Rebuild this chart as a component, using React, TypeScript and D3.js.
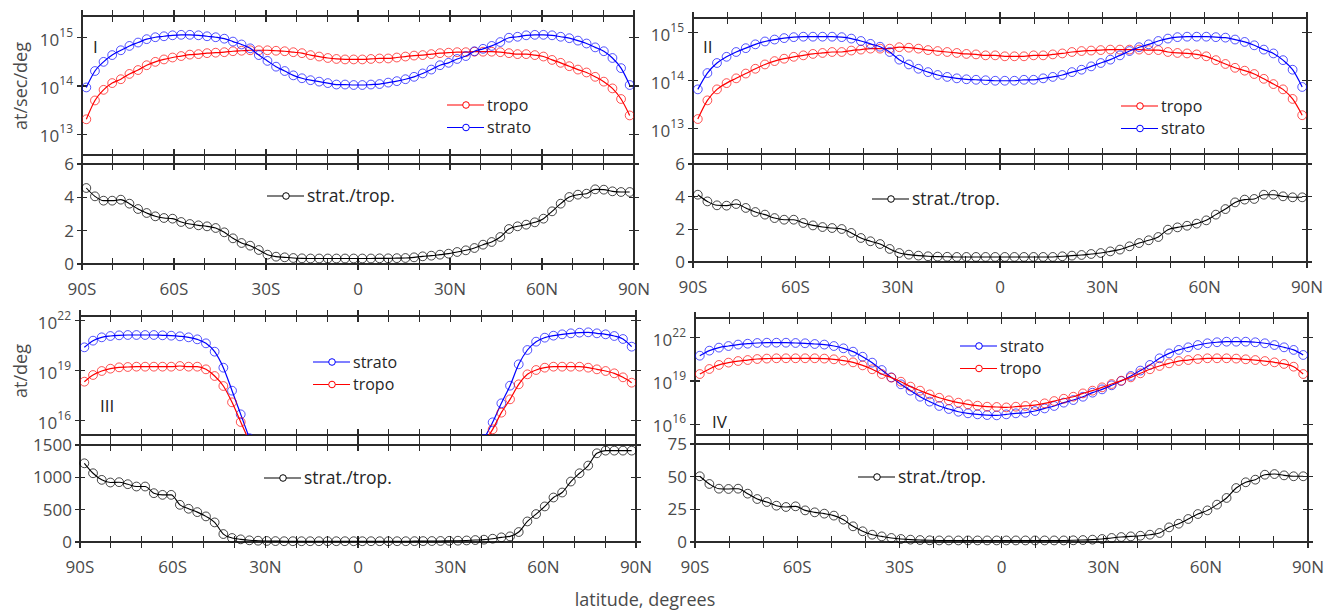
import React from 'react';
import * as d3 from 'd3';

// latitude of the model grid rows (degrees, S negative)
const LAT = [
  -88.59, -85.78, -82.97, -80.16, -77.34, -74.53, -71.72, -68.91, -66.09, -63.28, -60.47, -57.66,
  -54.84, -52.03, -49.22, -46.41, -43.59, -40.78, -37.97, -35.16, -32.34, -29.53, -26.72, -23.91,
  -21.09, -18.28, -15.47, -12.66, -9.84, -7.03, -4.22, -1.41,
  1.41, 4.22, 7.03, 9.84, 12.66, 15.47, 18.28, 21.09, 23.91, 26.72, 29.53, 32.34, 35.16, 37.97,
  40.78, 43.59, 46.41, 49.22, 52.03, 54.84, 57.66, 60.47, 63.28, 66.09, 68.91, 71.72, 74.53,
  77.34, 80.16, 82.97, 85.78, 88.59,
];

// panel I : log10(at/sec/deg)
const STRATO_I = [
  13.97, 14.31, 14.5, 14.64, 14.74, 14.83, 14.9, 14.97, 15.01, 15.03, 15.05, 15.06, 15.06, 15.05, 15.03, 15.01,
  14.98, 14.92, 14.86, 14.78, 14.64, 14.52, 14.4, 14.31, 14.22, 14.16, 14.12, 14.09, 14.06, 14.03, 14.03, 14.02,
  14.02, 14.03, 14.04, 14.07, 14.1, 14.14, 14.19, 14.26, 14.34, 14.43, 14.48, 14.56, 14.62, 14.72, 14.77, 14.83,
  14.91, 15.0, 15.02, 15.05, 15.06, 15.06, 15.05, 15.02, 14.99, 14.94, 14.88, 14.8, 14.72, 14.58, 14.37, 14.02,
];
const TROPO_I = [
  13.31, 13.7, 13.92, 14.06, 14.14, 14.25, 14.33, 14.43, 14.5, 14.55, 14.59, 14.62, 14.65, 14.66, 14.68, 14.69,
  14.7, 14.72, 14.73, 14.74, 14.74, 14.74, 14.73, 14.72, 14.7, 14.68, 14.64, 14.61, 14.58, 14.56, 14.55, 14.55,
  14.55, 14.56, 14.57, 14.57, 14.59, 14.61, 14.63, 14.64, 14.66, 14.68, 14.69, 14.7, 14.7, 14.71, 14.71, 14.71,
  14.7, 14.68, 14.66, 14.66, 14.64, 14.61, 14.54, 14.48, 14.41, 14.34, 14.28, 14.19, 14.09, 13.95, 13.73, 13.39,
];
const RATIO_I = [
  4.56, 4.06, 3.8, 3.8, 3.86, 3.62, 3.3, 3.06, 2.86, 2.76, 2.72, 2.52, 2.4, 2.32, 2.26, 2.16,
  1.9, 1.54, 1.26, 1.1, 0.84, 0.56, 0.44, 0.4, 0.36, 0.34, 0.33, 0.33, 0.33, 0.33, 0.33, 0.33,
  0.33, 0.33, 0.34, 0.34, 0.35, 0.36, 0.4, 0.46, 0.5, 0.56, 0.62, 0.72, 0.82, 0.96, 1.16, 1.32,
  1.62, 2.1, 2.26, 2.36, 2.5, 2.72, 3.16, 3.62, 4.02, 4.16, 4.22, 4.48, 4.46, 4.36, 4.32, 4.32,
];

// panel II : log10(at/sec/deg)
const STRATO_II = [
  13.82, 14.16, 14.37, 14.5, 14.6, 14.68, 14.76, 14.82, 14.86, 14.89, 14.91, 14.92, 14.92, 14.92, 14.92, 14.91,
  14.88, 14.83, 14.77, 14.71, 14.6, 14.44, 14.34, 14.25, 14.18, 14.12, 14.08, 14.05, 14.03, 14.02, 14.01, 14.0,
  14.0, 14.0, 14.02, 14.02, 14.05, 14.08, 14.12, 14.18, 14.23, 14.3, 14.37, 14.44, 14.53, 14.62, 14.7, 14.76,
  14.83, 14.88, 14.91, 14.92, 14.92, 14.92, 14.91, 14.9, 14.86, 14.81, 14.74, 14.65, 14.57, 14.43, 14.23, 13.87,
];
const TROPO_II = [
  13.2, 13.59, 13.82, 13.95, 14.05, 14.15, 14.25, 14.34, 14.41, 14.46, 14.5, 14.53, 14.56, 14.58, 14.6, 14.6,
  14.63, 14.65, 14.67, 14.67, 14.67, 14.7, 14.69, 14.67, 14.64, 14.62, 14.6, 14.58, 14.56, 14.55, 14.53, 14.53,
  14.51, 14.51, 14.51, 14.53, 14.53, 14.55, 14.57, 14.6, 14.62, 14.63, 14.64, 14.65, 14.65, 14.65, 14.65, 14.64,
  14.64, 14.6, 14.58, 14.57, 14.55, 14.51, 14.43, 14.35, 14.27, 14.21, 14.14, 14.04, 13.93, 13.82, 13.62, 13.28,
];
const RATIO_II = [
  4.12, 3.71, 3.47, 3.45, 3.55, 3.31, 3.06, 2.9, 2.69, 2.59, 2.59, 2.39, 2.24, 2.14, 2.08, 2.02,
  1.78, 1.47, 1.27, 1.1, 0.8, 0.55, 0.45, 0.39, 0.35, 0.33, 0.32, 0.31, 0.31, 0.31, 0.31, 0.31,
  0.31, 0.31, 0.31, 0.31, 0.31, 0.31, 0.35, 0.39, 0.43, 0.49, 0.55, 0.65, 0.76, 0.96, 1.16, 1.33,
  1.53, 1.98, 2.12, 2.22, 2.35, 2.55, 2.9, 3.24, 3.65, 3.82, 3.86, 4.12, 4.12, 4.02, 3.96, 3.96,
];

// panel III : log10(at/deg), null = below the plotted range
const STRATO_III = [
  20.4, 20.8, 21.0, 21.08, 21.12, 21.14, 21.14, 21.14, 21.14, 21.12, 21.1, 21.06, 21.0, 20.88, 20.64, 20.14,
  19.18, 17.8, 16.38, 14.95, null, null, null, null, null, null, null, null, null, null, null, null,
  null, null, null, null, null, null, null, null, null, null, null, null, null, null, 14.9, 15.9,
  17.04, 18.1, 19.38, 20.24, 20.74, 20.98, 21.1, 21.18, 21.24, 21.28, 21.3, 21.24, 21.18, 21.08, 20.9, 20.44,
];
const TROPO_III = [
  18.34, 18.74, 18.98, 19.12, 19.2, 19.22, 19.24, 19.24, 19.24, 19.24, 19.24, 19.28, 19.24, 19.24, 19.08, 18.68,
  18.08, 17.1, 15.92, 14.75, null, null, null, null, null, null, null, null, null, null, null, null,
  null, null, null, null, null, null, null, null, null, null, null, null, null, null, 14.7, 15.48,
  16.48, 17.28, 18.18, 18.78, 19.04, 19.18, 19.24, 19.24, 19.24, 19.24, 19.18, 19.08, 18.98, 18.84, 18.6, 18.28,
];
const RATIO_III = [
  1217, 1063, 961, 920, 925, 894, 858, 858, 755, 729, 729, 575, 514, 462, 396, 303,
  123, 62, 41, 26, 20, 16, 14, 12, 12, 12, 12, 12, 12, 12, 12, 12,
  12, 12, 12, 12, 12, 12, 13, 14, 15, 16, 18, 20, 24, 30, 36, 51,
  72, 87, 154, 318, 432, 550, 688, 765, 935, 1063, 1182, 1372, 1413, 1413, 1413, 1413,
];

// panel IV : log10(at/deg)
const STRATO_IV = [
  20.75, 21.1, 21.31, 21.42, 21.52, 21.58, 21.63, 21.65, 21.65, 21.65, 21.63, 21.61, 21.56, 21.52, 21.42, 21.26,
  21.03, 20.68, 20.27, 19.76, 19.25, 18.77, 18.33, 17.91, 17.57, 17.27, 17.06, 16.87, 16.76, 16.69, 16.64, 16.62,
  16.69, 16.76, 16.8, 16.92, 17.1, 17.27, 17.5, 17.68, 17.91, 18.19, 18.42, 18.7, 19.0, 19.35, 19.72, 20.11,
  20.57, 20.91, 21.15, 21.33, 21.49, 21.61, 21.68, 21.72, 21.72, 21.72, 21.68, 21.61, 21.49, 21.33, 21.15, 20.8,
];
const TROPO_IV = [
  19.48, 19.83, 20.11, 20.27, 20.38, 20.45, 20.52, 20.55, 20.57, 20.57, 20.57, 20.57, 20.57, 20.55, 20.5, 20.41,
  20.29, 20.08, 19.81, 19.48, 19.23, 18.95, 18.61, 18.33, 18.07, 17.84, 17.66, 17.5, 17.38, 17.29, 17.22, 17.2,
  17.17, 17.22, 17.27, 17.33, 17.45, 17.61, 17.77, 17.91, 18.14, 18.33, 18.56, 18.79, 19.02, 19.25, 19.53, 19.81,
  20.04, 20.22, 20.38, 20.45, 20.52, 20.57, 20.57, 20.57, 20.55, 20.5, 20.45, 20.38, 20.29, 20.18, 19.99, 19.48,
];
const RATIO_IV = [
  50.3, 44.4, 40.8, 40.6, 40.8, 37.0, 32.9, 30.6, 27.8, 26.8, 27.3, 24.2, 22.7, 21.7, 20.2, 17.1,
  12.0, 8.2, 5.6, 4.3, 3.1, 2.3, 1.8, 1.5, 1.3, 1.2, 1.2, 1.2, 1.2, 1.2, 1.2, 1.2,
  1.2, 1.2, 1.2, 1.2, 1.2, 1.2, 1.2, 1.3, 1.5, 1.8, 2.3, 3.1, 3.8, 4.3, 4.8, 5.6,
  6.9, 11.2, 14.0, 17.6, 21.4, 24.2, 28.6, 33.7, 41.3, 45.7, 47.7, 51.5, 52.0, 51.0, 50.3, 50.3,
];

// tick values / labels
const LAT_TICKS = [-90, -80, -70, -60, -50, -40, -30, -20, -10, 0, 10, 20, 30, 40, 50, 60, 70, 80, 90];
const LAT_LABELS = ['90S', '60S', '30S', '0', '30N', '60N', '90N'];
const LAT_LABELS_ALT = ['90S', '60S', '30N', '0', '30N', '60N', '90N']; // as printed in panels II and III
const LAT_LABEL_POS = [-90, -60, -30, 0, 30, 60, 90];

const FONT = '"Open Sans", "Noto Sans", sans-serif';
const AX = '#2b2b2b';
const TXT = '#4a4a4a';
const RED = '#ff0000';
const BLUE = '#0000ff';

type Ser = { name: string; color: string; vals: (number | null)[] };

type PanelCfg = {
  id: string;
  roman: string;
  romanAt: [number, number];
  x0: number; x1: number;
  top: [number, number]; logDom: [number, number]; logTicks: number[];
  bot: [number, number]; ratioDom: [number, number]; ratioTicks: number[];
  labels: string[];
  series: Ser[];
  ratio: number[];
  leg: [number, number];
  legR: [number, number];
};

const PANELS: PanelCfg[] = [
  {
    id: 'p1', roman: 'I', romanAt: [93, 53],
    x0: 82, x1: 634, top: [16, 155], logDom: [12.57, 15.45], logTicks: [13, 14, 15],
    bot: [164, 264], ratioDom: [0, 6], ratioTicks: [0, 2, 4, 6],
    labels: LAT_LABELS,
    series: [
      { name: 'tropo', color: RED, vals: TROPO_I },
      { name: 'strato', color: BLUE, vals: STRATO_I },
    ],
    ratio: RATIO_I, leg: [447, 105], legR: [267, 196],
  },
  {
    id: 'p2', roman: 'II', romanAt: [703, 53],
    x0: 693, x1: 1307, top: [18, 154], logDom: [12.47, 15.31], logTicks: [13, 14, 15],
    bot: [164, 262], ratioDom: [0, 6], ratioTicks: [0, 2, 4, 6],
    labels: LAT_LABELS_ALT,
    series: [
      { name: 'tropo', color: RED, vals: TROPO_II },
      { name: 'strato', color: BLUE, vals: STRATO_II },
    ],
    ratio: RATIO_II, leg: [1121, 106], legR: [872, 199],
  },
  {
    id: 'p3', roman: 'III', romanAt: [100, 412],
    x0: 80, x1: 636, top: [316, 435], logDom: [15.14, 22.28], logTicks: [16, 19, 22],
    bot: [445, 542], ratioDom: [0, 1500], ratioTicks: [0, 500, 1000, 1500],
    labels: LAT_LABELS_ALT,
    series: [
      { name: 'strato', color: BLUE, vals: STRATO_III },
      { name: 'tropo', color: RED, vals: TROPO_III },
    ],
    ratio: RATIO_III, leg: [313, 362], legR: [264, 478],
  },
  {
    id: 'p4', roman: 'IV', romanAt: [712, 428],
    x0: 695, x1: 1308, top: [318, 435], logDom: [15.26, 23.36], logTicks: [16, 19, 22],
    bot: [444, 542], ratioDom: [0, 75], ratioTicks: [0, 25, 50, 75],
    labels: LAT_LABELS,
    series: [
      { name: 'strato', color: BLUE, vals: STRATO_IV },
      { name: 'tropo', color: RED, vals: TROPO_IV },
    ],
    ratio: RATIO_IV, leg: [960, 346], legR: [858, 477],
  },
];

// box with ticks crossing every side
function Frame({ x0, x1, y0, y1, xt, yt, tl = 6 }: { x0: number; x1: number; y0: number; y1: number; xt: number[]; yt: number[]; tl?: number }) {
  return (
    <g stroke={AX} strokeWidth={1.1} fill="none" shapeRendering="crispEdges">
      <rect x={x0} y={y0} width={x1 - x0} height={y1 - y0} />
      {xt.map((v, i) => (
        <g key={'x' + i}>
          <line x1={v} x2={v} y1={y0 - tl} y2={y0 + tl} />
          <line x1={v} x2={v} y1={y1 - tl} y2={y1 + tl} />
        </g>
      ))}
      {yt.map((v, i) => (
        <g key={'y' + i}>
          <line x1={x0 - 5} x2={x0 + 5} y1={v} y2={v} />
          <line x1={x1 - 5} x2={x1 + 5} y1={v} y2={v} />
        </g>
      ))}
    </g>
  );
}

function LegendItem({ x, y, color, label, size }: { x: number; y: number; color: string; label: string; size: number }) {
  return (
    <g>
      <line x1={x} x2={x + 37} y1={y} y2={y} stroke={color} strokeWidth={1.2} />
      <circle cx={x + 19} cy={y} r={3.3} fill="white" stroke={color} strokeWidth={1} />
      <text x={x + 40} y={y} dy="0.35em" fontSize={size} fill="#262626" fontFamily={FONT}>{label}</text>
    </g>
  );
}

function Panel({ p }: { p: PanelCfg }) {
  const x = d3.scaleLinear().domain([-90, 90]).range([p.x0, p.x1]);
  const yT = d3.scaleLog().domain([10 ** p.logDom[0], 10 ** p.logDom[1]]).range([p.top[1], p.top[0]]);
  const yB = d3.scaleLinear().domain(p.ratioDom).range([p.bot[1], p.bot[0]]);

  const lineT = d3.line<[number, number | null]>()
    .defined((d) => d[1] != null)
    .x((d) => x(d[0]))
    .y((d) => yT(10 ** (d[1] as number)))
    .curve(d3.curveMonotoneX);
  const lineB = d3.line<[number, number]>()
    .x((d) => x(d[0]))
    .y((d) => yB(d[1]))
    .curve(d3.curveMonotoneX);

  const xt = LAT_TICKS.map((v) => x(v));
  const clip = p.id + '-clip';

  return (
    <g>
      <defs>
        <clipPath id={clip}>
          <rect x={p.x0} y={p.top[0]} width={p.x1 - p.x0} height={p.top[1] - p.top[0]} />
        </clipPath>
      </defs>

      {/* upper (log) axes */}
      <Frame x0={p.x0} x1={p.x1} y0={p.top[0]} y1={p.top[1]} xt={xt} yt={p.logTicks.map((e) => yT(10 ** e))} />
      {p.logTicks.map((e) => (
        <text key={e} x={p.x0 - 9} y={yT(10 ** e) + 8} textAnchor="end" fontSize={17} fill={TXT} fontFamily={FONT}>
          10<tspan dy={-9} fontSize={12}>{e}</tspan>
        </text>
      ))}
      <g clipPath={`url(#${clip})`}>
        {p.series.map((s) => {
          const pts = LAT.map((la, i) => [la, s.vals[i]] as [number, number | null]);
          return (
            <g key={s.name}>
              <path d={lineT(pts) || ''} fill="none" stroke={s.color} strokeWidth={1.2} />
              {pts.filter((d) => d[1] != null).map((d, i) => (
                <circle key={i} cx={x(d[0])} cy={yT(10 ** (d[1] as number))} r={4.4} fill="none"
                  stroke={s.color} strokeOpacity={0.75} strokeWidth={0.9} />
              ))}
            </g>
          );
        })}
      </g>
      <text x={p.romanAt[0]} y={p.romanAt[1]} fontSize={17} fill="#222" fontFamily={FONT}>{p.roman}</text>
      {p.series.map((s, i) => (
        <LegendItem key={s.name} x={p.leg[0]} y={p.leg[1] + i * 22.5} color={s.color} label={s.name} size={16} />
      ))}

      {/* lower (ratio) axes */}
      <Frame x0={p.x0} x1={p.x1} y0={p.bot[0]} y1={p.bot[1]} xt={xt} yt={p.ratioTicks.map((v) => yB(v))} />
      {p.ratioTicks.map((v) => (
        <text key={v} x={p.x0 - 8} y={yB(v)} dy="0.36em" textAnchor="end" fontSize={17} fill={TXT} fontFamily={FONT}>{v}</text>
      ))}
      {(() => {
        const pts = LAT.map((la, i) => [la, p.ratio[i]] as [number, number]);
        return (
          <g>
            <path d={lineB(pts) || ''} fill="none" stroke="#000" strokeWidth={1.1} />
            {pts.map((d, i) => (
              <circle key={i} cx={x(d[0])} cy={yB(d[1])} r={4.4} fill="none" stroke="#000" strokeOpacity={0.8} strokeWidth={0.9} />
            ))}
          </g>
        );
      })()}
      <LegendItem x={p.legR[0]} y={p.legR[1]} color="#000" label="strat./trop." size={17.5} />
      {LAT_LABEL_POS.map((v, i) => (
        <text key={v} x={x(v)} y={p.bot[1] + 31} textAnchor="middle" fontSize={17} fill={TXT} fontFamily={FONT}>{p.labels[i]}</text>
      ))}
    </g>
  );
}

export default function App() {
  return (
    <svg width={1331} height={610} viewBox="0 0 1331 610"
      style={{ position: 'absolute', left: 0, top: 0, background: '#fff' }}>
      <rect width={1331} height={610} fill="#fff" />
      {PANELS.map((p) => <Panel key={p.id} p={p} />)}
      <text transform="translate(27,86) rotate(-90)" textAnchor="middle" fontSize={18} fill={TXT} fontFamily={FONT}>at/sec/deg</text>
      <text transform="translate(27,371) rotate(-90)" textAnchor="middle" fontSize={18} fill={TXT} fontFamily={FONT}>at/deg</text>
      <text x={645} y={606} textAnchor="middle" fontSize={18} fill={TXT} fontFamily={FONT}>latitude, degrees</text>
    </svg>
  );
}
